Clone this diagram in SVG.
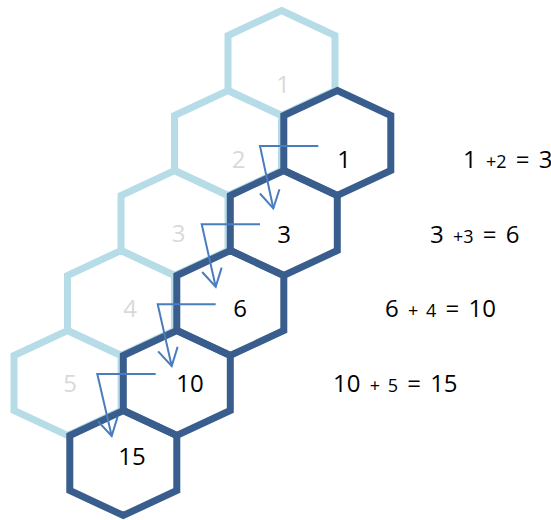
<svg xmlns="http://www.w3.org/2000/svg" width="551" height="520" viewBox="0 0 551 520">
  <style>
    .hex-light { fill: none; stroke: #B6DDE7; stroke-width: 7; stroke-linejoin: miter; }
    .hex-dark { fill: none; stroke: #395E8D; stroke-width: 7; stroke-linejoin: miter; }
    .num-gray { font-family: "Open Sans", "Noto Sans", sans-serif; font-size: 24px; fill: #D9D9D9; text-anchor: middle; }
    .num { font-family: "Open Sans", "Noto Sans", sans-serif; font-size: 24px; fill: #000000; text-anchor: middle; }
    .eq { font-family: "Open Sans", "Noto Sans", sans-serif; font-size: 24px; fill: #000000; word-spacing: 3px; }
    .sm { font-size: 18px; }
    .arrow { fill: none; stroke: #4A7DBE; stroke-width: 2; }
  </style>
  <defs>
    <polygon id="hex" points="0,-52.5 53.5,-27.5 53.5,27.5 0,52.5 -53.5,27.5 -53.5,-27.5"/>
    <marker id="vhead" markerUnits="userSpaceOnUse" markerWidth="24" markerHeight="24" viewBox="-20 -12 24 24" refX="0" refY="0" orient="auto">
      <path d="M-17.3,-10 L0,0 L-17.3,10" fill="none" stroke="#4A7DBE" stroke-width="2"/>
    </marker>
  </defs>

  <g id="light-hexes">
    <g id="light-1"><use href="#hex" class="hex-light" x="281.5" y="63"/><text class="num-gray" x="283" y="93">1</text></g>
    <g id="light-2"><use href="#hex" class="hex-light" x="228" y="143"/><text class="num-gray" x="238.5" y="168">2</text></g>
    <g id="light-3"><use href="#hex" class="hex-light" x="174.5" y="223"/><text class="num-gray" x="178.5" y="242">3</text></g>
    <g id="light-4"><use href="#hex" class="hex-light" x="121" y="303"/><text class="num-gray" x="130" y="317">4</text></g>
    <g id="light-5"><use href="#hex" class="hex-light" x="67.5" y="383"/><text class="num-gray" x="70" y="392">5</text></g>
  </g>

  <g id="dark-hexes">
    <g id="dark-1"><use href="#hex" class="hex-dark" x="337.3" y="143"/><text class="num" x="344" y="168">1</text></g>
    <g id="dark-3"><use href="#hex" class="hex-dark" x="283.8" y="223"/><text class="num" x="284" y="243">3</text></g>
    <g id="dark-6"><use href="#hex" class="hex-dark" x="230.3" y="303"/><text class="num" x="240" y="317">6</text></g>
    <g id="dark-10"><use href="#hex" class="hex-dark" x="176.8" y="383"/><text class="num" x="190" y="392">10</text></g>
    <g id="dark-15"><use href="#hex" class="hex-dark" x="123.3" y="463"/><text class="num" x="132" y="465">15</text></g>
  </g>

  <g id="connectors">
    <path class="arrow" d="M318.3,146 H260 L273.3,208.3" marker-end="url(#vhead)"/>
    <path class="arrow" d="M260,224.3 H201.7 L215.7,286.7" marker-end="url(#vhead)"/>
    <path class="arrow" d="M215.7,304.3 H157.7 L171.7,366" marker-end="url(#vhead)"/>
    <path class="arrow" d="M155.7,374 H97.3 L111.7,436" marker-end="url(#vhead)"/>
  </g>

  <g id="equations">
    <text class="eq" x="463" y="168">1 <tspan class="sm">+2</tspan> = 3</text>
    <text class="eq" x="430" y="243">3 <tspan class="sm">+3</tspan> = 6</text>
    <text class="eq" x="385" y="317">6 <tspan class="sm">+ 4</tspan> = 10</text>
    <text class="eq" x="333" y="392">10 <tspan class="sm">+ 5</tspan> = 15</text>
  </g>
</svg>
